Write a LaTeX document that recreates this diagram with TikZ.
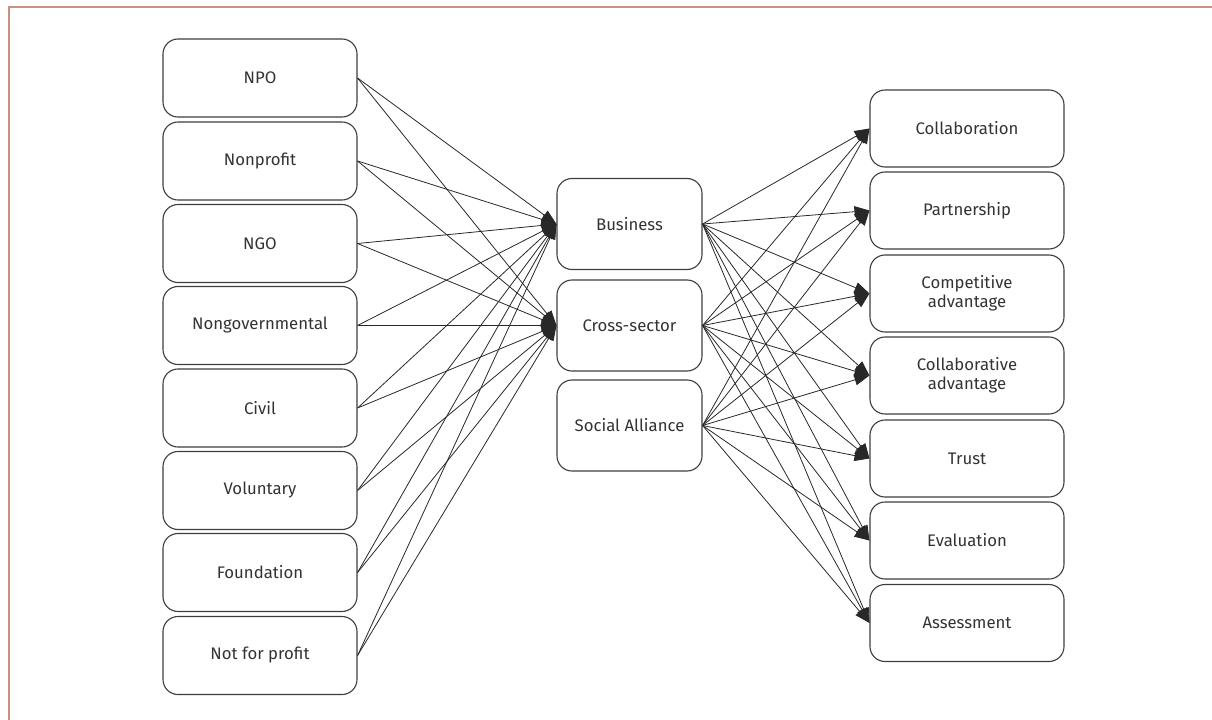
\documentclass[tikz,border=0pt]{standalone}
\usepackage{fontspec}
\setmainfont{Fira Sans}
\usetikzlibrary{arrows.meta}
\definecolor{framec}{RGB}{200,145,130}
\definecolor{ink}{RGB}{40,40,40}
\tikzset{
  box/.style={draw=ink!90, line width=1.1bp, rounded corners=15bp, align=center,
    font=\fontsize{16.8}{19}\selectfont, text=ink!95, inner sep=0pt},
  lbox/.style={box, minimum width=194bp, minimum height=78bp},
  mbox/.style={box, minimum width=145bp, minimum height=91bp},
  rbox/.style={box, minimum width=194bp, minimum height=77bp},
  conn/.style={draw=ink, line width=0.8bp, -{Triangle[length=15bp,width=11bp]}}
}
\begin{document}
\begin{tikzpicture}[x=1bp,y=-1bp]
\useasboundingbox (0,0) rectangle (1212,720);
\draw[framec, line width=1.4bp] (9,720) -- (9,7) -- (1212,7);
% left
\node[lbox] (l1) at (260,78) {NPO};
\node[lbox] (l2) at (260,161) {Nonprofit};
\node[lbox] (l3) at (260,243.5) {NGO};
\node[lbox] (l4) at (260,325.5) {Nongovernmental};
\node[lbox] (l5) at (260,408) {Civil};
\node[lbox] (l6) at (260,490.5) {Voluntary};
\node[lbox] (l7) at (260,572.5) {Foundation};
\node[lbox] (l8) at (260,655.5) {Not for profit};
% middle
\node[mbox] (m1) at (629.5,224) {Business};
\node[mbox] (m2) at (629.5,325.5) {Cross-sector};
\node[mbox] (m3) at (629.5,425.5) {Social Alliance};
% right
\node[rbox] (r1) at (967,128.5) {Collaboration};
\node[rbox] (r2) at (967,210.5) {Partnership};
\node[rbox] (r3) at (967,293.5) {Competitive\\advantage};
\node[rbox] (r4) at (967,375.5) {Collaborative\\advantage};
\node[rbox] (r5) at (967,458.5) {Trust};
\node[rbox] (r6) at (967,540.5) {Evaluation};
\node[rbox] (r7) at (967,623) {Assessment};
\foreach \i in {1,...,8}{
  \foreach \m in {1,2}{
    \draw[conn] (l\i.east) -- (m\m.west);
  }
}
\foreach \m in {1,2,3}{
  \foreach \j in {1,...,7}{
    \draw[conn] (m\m.east) -- (r\j.west);
  }
}
\end{tikzpicture}
\end{document}
